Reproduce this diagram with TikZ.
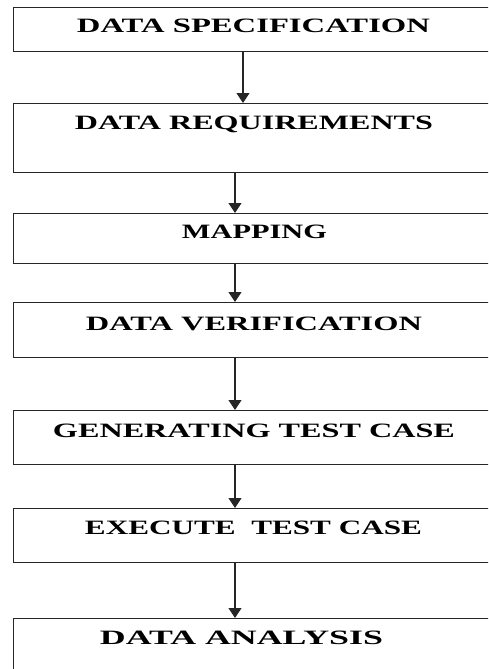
\documentclass[tikz,border=0pt]{standalone}
\usepackage{fontspec}
\setmainfont{Liberation Serif}
\usetikzlibrary{arrows.meta}
% label text: bold caps fitted to a given width and a cap height of 13.5pt
\newcommand\steplabel[2]{\resizebox{#1pt}{13.5pt}{\bfseries #2}}
\begin{document}
\begin{tikzpicture}[x=1pt,y=-1pt,
  stepbox/.style={draw=black!85, line width=1.2pt, rectangle, inner sep=0pt,
                  anchor=north west, minimum width=500pt},
  steptext/.style={inner sep=0pt, anchor=base},
  flow/.style={draw=black!85, line width=1.2pt,
               -{Triangle[width=13pt,length=10pt]}}]
\useasboundingbox (0,0) rectangle (488,669);
\clip (0,0) rectangle (488,669);

% process boxes (they run past the right and bottom edges)
\node[stepbox, minimum height=44pt] (b1) at (13,7)   {};
\node[stepbox, minimum height=69pt] (b2) at (13,103) {};
\node[stepbox, minimum height=50pt] (b3) at (13,213) {};
\node[stepbox, minimum height=55pt] (b4) at (13,302) {};
\node[stepbox, minimum height=54pt] (b5) at (13,410) {};
\node[stepbox, minimum height=54pt] (b6) at (13,508) {};
\node[stepbox, minimum height=70pt] (b7) at (13,618) {};

% labels
\node[steptext] (t1) at (253.5,33)  {\steplabel{353}{DATA SPECIFICATION}};
\node[steptext] (t2) at (254,129.5) {\steplabel{358}{DATA REQUIREMENTS}};
\node[steptext] (t3) at (254.5,238.5) {\steplabel{145}{MAPPING}};
\node[steptext] (t4) at (254,330)   {\steplabel{336}{DATA VERIFICATION}};
\node[steptext] (t5) at (254,437)   {\steplabel{402}{GENERATING TEST CASE}};
\node[steptext] (t6) at (253.5,534) {\steplabel{337}{EXECUTE\ \ TEST CASE}};
\node[steptext] (t7) at (241.5,644) {\steplabel{283}{DATA ANALYSIS}};

% connector columns
\coordinate (axa) at (243,0);
\coordinate (axb) at (235,0);

\draw[flow] (b1.south -| axa) -- (b2.north -| axa);
\draw[flow] (b2.south -| axb) -- (b3.north -| axb);
\draw[flow] (b3.south -| axb) -- (b4.north -| axb);
\draw[flow] (b4.south -| axb) -- (b5.north -| axb);
\draw[flow] (b5.south -| axb) -- (b6.north -| axb);
\draw[flow] (b6.south -| axb) -- (b7.north -| axb);
\end{tikzpicture}
\end{document}
